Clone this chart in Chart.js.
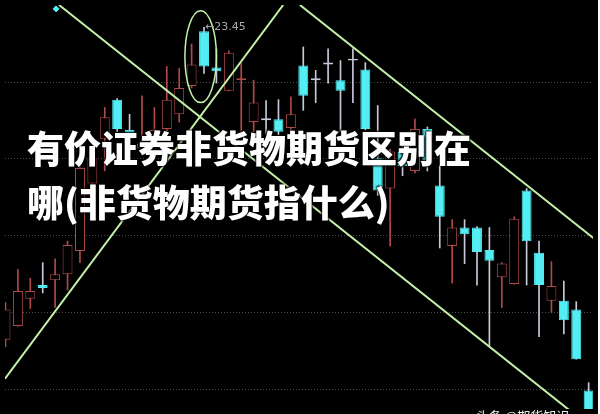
<!DOCTYPE html>
<html>
<head>
<meta charset="utf-8">
<script src="https://cdn.jsdelivr.net/npm/chart.js@4.4.0/dist/chart.umd.min.js"></script>
<style>
html, body { margin: 0; padding: 0; width: 600px; height: 414px; overflow: hidden; background: #fff; }
#wrap { position: relative; width: 598px; height: 414px; background: #000; overflow: hidden; }
canvas { display: block; }
.title { position: absolute; left: 27px; color: #fff; font-family: "Noto Sans CJK SC"; font-weight: 900;
  font-size: 37px; line-height: 37px; white-space: nowrap; text-shadow: 1px 1px 2px #000, -1px -1px 2px #000; }
.mark { position: absolute; left: 476px; top: 406px; color: #eee; font-family: "Noto Sans CJK SC"; font-size: 13px; white-space: nowrap; }
</style>
</head>
<body>
<div id="wrap">
  <canvas id="myChart" width="598" height="414"></canvas>
  <div class="title" style="top:129px">有价证券非货物期货区别在</div>
  <div class="title" style="top:183px">哪(非货物期货指什么)</div>
  <div class="mark">头条 @期货知识</div>
</div>
<script>
const ctx = document.querySelector('#myChart')

// daily prices, one entry per candle (left to right)
const opens  = [20.25,20.39,20.67,20.81,20.86,20.92,21.16,21.85,22.31,22.71,22.40,22.21,22.33,22.41,22.56,22.85,23.41,23.04,22.80,22.91,22.48,22.52,22.51,22.42,23.06,22.93,23.09,22.91,23.13,23.02,22.11,21.80,22.18,21.98,22.41,21.83,21.21,21.40,21.40,21.17,20.89,20.82,21.78,21.14,20.65,20.65,20.56,19.73]
const closes = [20.56,20.75,20.75,20.78,20.92,21.22,22.01,22.11,22.53,22.41,22.31,22.26,22.40,22.71,22.83,23.07,23.05,23.00,23.19,22.93,22.68,22.50,22.38,22.56,22.75,22.91,23.07,22.80,23.11,22.41,21.78,22.18,22.03,22.41,22.05,21.51,21.40,21.33,21.15,21.06,21.03,21.49,21.26,20.81,20.80,20.45,20.05,19.28]
const highs  = [20.63,20.97,20.88,21.04,21.08,21.26,22.08,22.18,22.63,22.72,22.56,22.75,22.63,23.05,23.03,23.28,23.45,23.23,23.21,23.08,22.91,22.70,22.71,22.74,23.25,23.01,23.23,23.11,23.23,23.09,22.65,22.20,22.28,22.51,22.43,22.03,21.48,21.48,21.41,21.40,21.04,21.51,21.80,21.26,21.05,20.85,20.64,19.81]
const lows   = [20.18,20.39,20.57,20.73,20.58,20.76,21.04,21.53,21.98,22.38,22.23,22.18,22.28,22.33,22.48,22.83,22.98,22.88,22.80,22.38,22.38,22.36,22.35,22.35,22.60,22.68,22.88,22.38,22.68,22.40,21.73,21.21,21.93,21.96,21.98,21.19,20.83,21.03,20.81,20.18,20.58,20.82,20.81,20.28,20.53,20.31,20.05,19.28]

// horizontal guide levels of the trading software
const gridLevels = [22.89, 22.11, 21.32, 20.53, 19.74]

// hand drawn trend lines (candle index, price)
const trendA = [{x: 4.32, y: 23.68}, {x: 49.09, y: 19.16}]
const trendB = [{x: -0.04, y: 19.85}, {x: 22.38, y: 23.68}]
const trendC = [{x: 23.73, y: 23.68}, {x: 49.09, y: 21.12}]
const markerPoint = [{x: 4.08, y: 23.64}]

const peakIndex = 16
const ringCenter = [15.73, 23.15]
const ringRadius = [1.27, 0.47]

const upColor = '#b04a4a'
const downColor = '#52eef4'
const downWick = '#c8c8da'
const lineColor = '#c4f2a8'

const isUp = opens.map((o, i) => closes[i] >= o)
const bodies = opens.map((o, i) => ({x: i, y: [o, closes[i]]}))
const wicks = lows.map((l, i) => ({x: i, y: [l, highs[i]]}))
const bodyFill = opens.map((o, i) => {
    if (isUp[i]) return '#000'
    return Math.abs(o - closes[i]) < 0.025 ? downWick : downColor
})
const bodyBorder = opens.map((o, i) => {
    if (isUp[i]) return upColor
    return Math.abs(o - closes[i]) < 0.025 ? downWick : downColor
})

const overlay = {
    id: 'overlay',
    afterDatasetsDraw(chart) {
        const c = chart.ctx
        const x = chart.scales.x
        const y = chart.scales.y
        c.save()
        const cx = x.getPixelForValue(ringCenter[0])
        const cy = y.getPixelForValue(ringCenter[1])
        const rx = x.getPixelForValue(ringCenter[0] + ringRadius[0]) - cx
        const ry = y.getPixelForValue(ringCenter[1] - ringRadius[1]) - cy
        c.strokeStyle = lineColor
        c.lineWidth = 1.5
        c.beginPath()
        c.ellipse(cx, cy, rx, ry, 0, 0, Math.PI * 2)
        c.stroke()

        const px = x.getPixelForValue(peakIndex)
        const py = y.getPixelForValue(highs[peakIndex])
        c.fillStyle = '#a8a8a8'
        c.font = '11px "DejaVu Sans"'
        c.textBaseline = 'middle'
        c.fillText('\u2190' + highs[peakIndex].toFixed(2), px + 1, py)
        c.restore()
    }
}

new Chart(ctx, {
    type: 'bar',
    data: {
        datasets: [
            { type: 'line', data: trendA, borderColor: lineColor, borderWidth: 2, pointRadius: 0, order: 0 },
            { type: 'line', data: trendB, borderColor: lineColor, borderWidth: 2, pointRadius: 0, order: 0 },
            { type: 'line', data: trendC, borderColor: lineColor, borderWidth: 2, pointRadius: 0, order: 0 },
            { type: 'line', data: markerPoint, showLine: false, pointStyle: 'rectRot', pointRadius: 3,
              backgroundColor: downColor, borderColor: downColor, order: 0 },
            { data: bodies, backgroundColor: bodyFill, borderColor: bodyBorder, borderWidth: 1,
              borderSkipped: false, grouped: false, categoryPercentage: 1, barPercentage: 0.8, order: 1 },
            { data: wicks, backgroundColor: isUp.map(u => u ? upColor : downWick), borderWidth: 0,
              grouped: false, barThickness: 1, order: 2 }
        ]
    },
    options: {
        responsive: false,
        animation: false,
        layout: { padding: 0 },
        plugins: { legend: { display: false }, tooltip: { enabled: false } },
        scales: {
            x: { type: 'linear', min: -0.04, max: 47.35, offset: false, display: false,
                 grid: { display: false, offset: false } },
            y: { min: 19.54, max: 23.68,
                 ticks: { display: false },
                 grid: { color: '#4c4c4c', drawTicks: false, lineWidth: 1 },
                 border: { display: false, dash: [1, 2] },
                 afterBuildTicks: ax => { ax.ticks = gridLevels.map(v => ({value: v})) } }
        }
    },
    plugins: [overlay]
})
</script>
</body>
</html>
